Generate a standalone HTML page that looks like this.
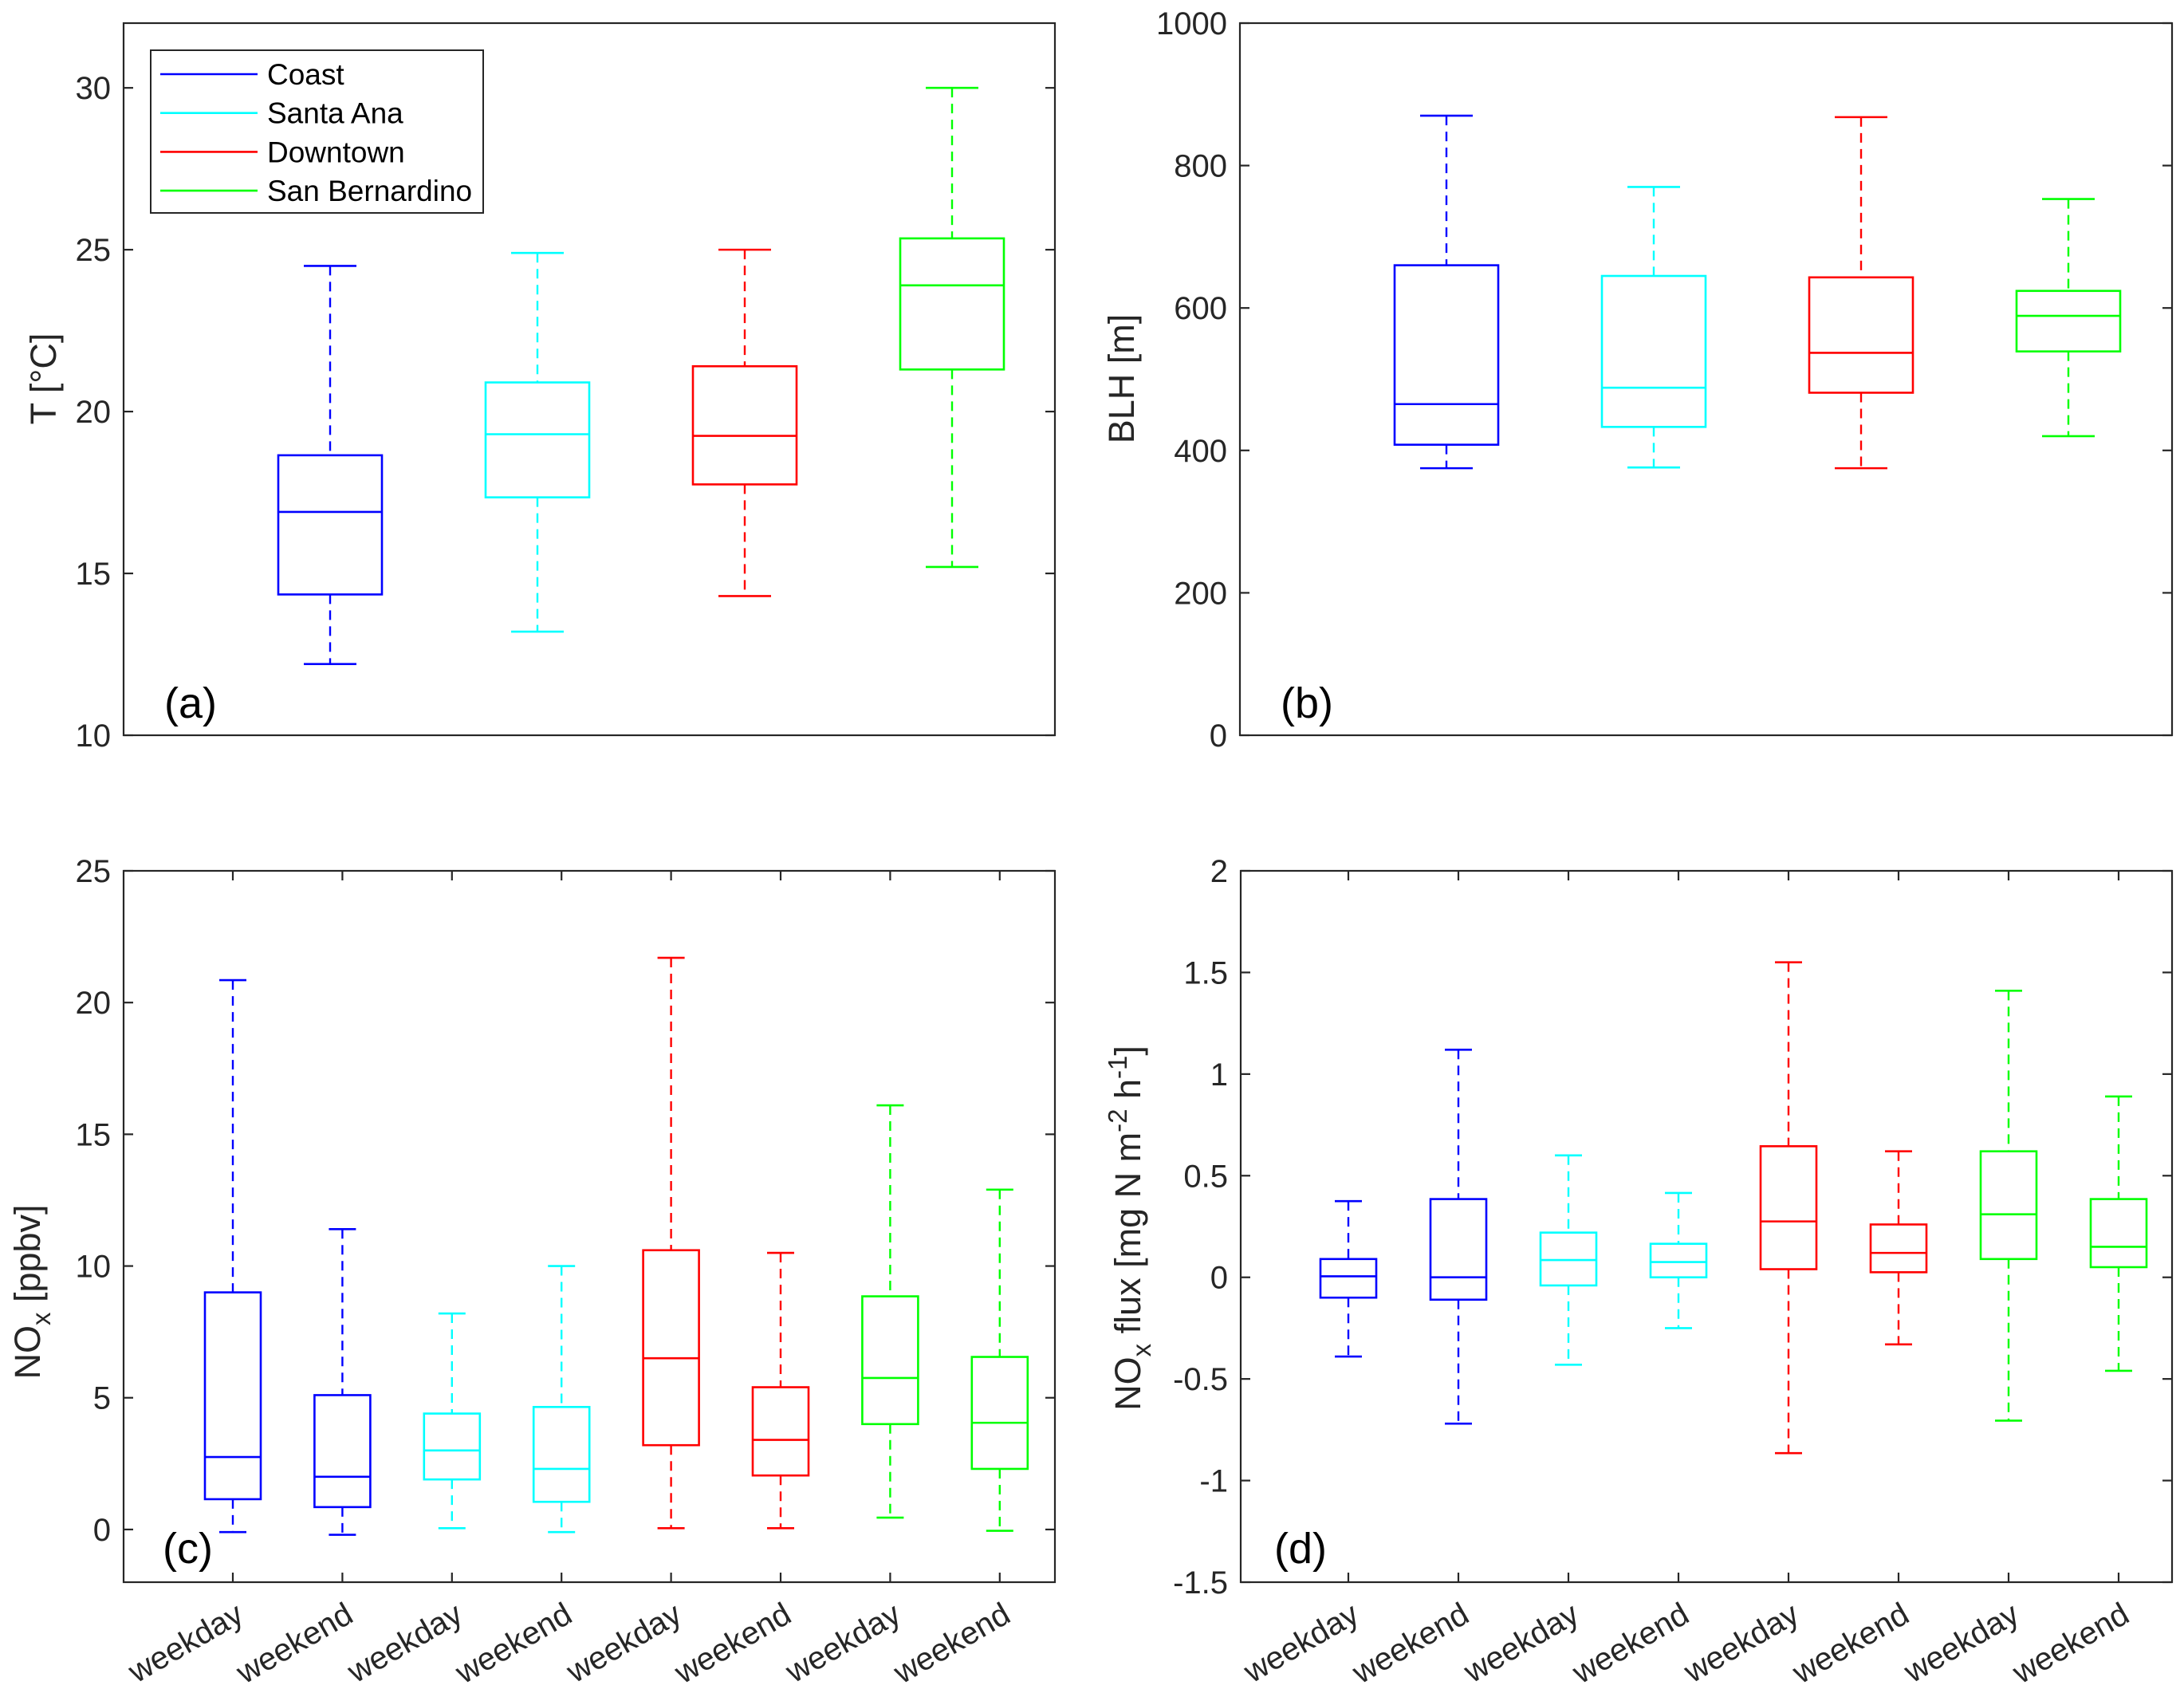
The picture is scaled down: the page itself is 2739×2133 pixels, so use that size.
<!DOCTYPE html>
<html><head><meta charset="utf-8"><style>
html,body{margin:0;padding:0;background:#fff;}
svg{display:block;font-family:"Liberation Sans",Arial,sans-serif;}
</style></head><body>
<svg id="fig" width="2739" height="2133" viewBox="0 0 2739 2133" xmlns="http://www.w3.org/2000/svg"></svg>
<script>
// ---- data ----
const sites = ["Coast","Santa Ana","Downtown","San Bernardino"];
const colors = ["#0000ff","#00ffff","#ff0000","#00ff00"];
const tempHi  = [24.5, 24.9, 25.0, 30.0];
const tempQ3  = [18.65, 20.9, 21.4, 25.35];
const tempMed = [16.9, 19.3, 19.25, 23.9];
const tempQ1  = [14.35, 17.35, 17.75, 21.3];
const tempLo  = [12.2, 13.2, 14.3, 15.2];
const blhHi  = [870, 770, 868, 753];
const blhQ3  = [660, 645, 643, 624];
const blhMed = [465, 488, 537, 589];
const blhQ1  = [408, 433, 481, 539];
const blhLo  = [375, 376, 375, 420];
const dayCats = ["weekday","weekend","weekday","weekend","weekday","weekend","weekday","weekend"];
const noxHi  = [20.85, 11.4, 8.2, 10.0, 21.7, 10.5, 16.1, 12.9];
const noxQ3  = [9.0, 5.1, 4.4, 4.65, 10.6, 5.4, 8.85, 6.55];
const noxMed = [2.75, 2.0, 3.0, 2.3, 6.5, 3.4, 5.75, 4.05];
const noxQ1  = [1.15, 0.85, 1.9, 1.05, 3.2, 2.05, 4.0, 2.3];
const noxLo  = [-0.1, -0.2, 0.05, -0.1, 0.05, 0.05, 0.45, -0.05];
const fluxHi  = [0.375, 1.12, 0.60, 0.415, 1.55, 0.62, 1.41, 0.89];
const fluxQ3  = [0.09, 0.385, 0.22, 0.165, 0.645, 0.26, 0.62, 0.385];
const fluxMed = [0.005, 0.0, 0.085, 0.075, 0.275, 0.12, 0.31, 0.15];
const fluxQ1  = [-0.10, -0.11, -0.04, 0.0, 0.04, 0.025, 0.09, 0.05];
const fluxLo  = [-0.39, -0.72, -0.43, -0.25, -0.865, -0.33, -0.705, -0.46];
const tempTicks = [10,15,20,25,30];
const blhTicks = [0,200,400,600,800,1000];
const noxTicks = [0,5,10,15,20,25];
const fluxTicks = [-1.5,-1,-0.5,0,0.5,1,1.5,2];

const NS="http://www.w3.org/2000/svg";
const svg=document.getElementById('fig');
function mk(tag,attrs,parent){const e=document.createElementNS(NS,tag);for(const k in attrs)e.setAttribute(k,attrs[k]);(parent||svg).appendChild(e);return e;}
const AX="#262626";

function panel(o){
  const g=mk('g',{});
  
  
  const L=o.left,R=o.right,T=o.top,B=o.bottom;
  const y=v=>B-(v-o.ymin)/(o.ymax-o.ymin)*(B-T);
  const x=i=>L+o.off+o.step*i;
  const fr=mk('rect',{x:L,y:T,width:R-L,height:B-T,fill:'none',stroke:AX,'stroke-width':2.2},g);
  
  
  o.yticks.forEach(v=>{
    const yy=y(v);
    mk('line',{x1:L,y1:yy,x2:L+12,y2:yy,stroke:AX,'stroke-width':2.2},g);
    mk('line',{x1:R,y1:yy,x2:R-12,y2:yy,stroke:AX,'stroke-width':2.2},g);
    const t=mk('text',{x:L-16,y:yy+14,'text-anchor':'end','font-size':40,fill:AX},g);
    t.textContent=String(v);
    
    
  });
  const n=o.hi.length;
  for(let i=0;i<n;i++){
    const cx=x(i), c=o.col(i), hw=o.hw, cw=o.cw;
    const bg=mk('g',{},g);
    
    
    mk('line',{x1:cx,y1:y(o.hi[i]),x2:cx,y2:y(o.q3[i]),stroke:c,'stroke-width':2.4,'stroke-dasharray':'12,8'},bg);
    mk('line',{x1:cx,y1:y(o.q1[i]),x2:cx,y2:y(o.lo[i]),stroke:c,'stroke-width':2.4,'stroke-dasharray':'12,8'},bg);
    mk('line',{x1:cx-cw,y1:y(o.hi[i]),x2:cx+cw,y2:y(o.hi[i]),stroke:c,'stroke-width':2.6},bg);
    mk('line',{x1:cx-cw,y1:y(o.lo[i]),x2:cx+cw,y2:y(o.lo[i]),stroke:c,'stroke-width':2.6},bg);
    mk('rect',{x:cx-hw,y:y(o.q3[i]),width:2*hw,height:y(o.q1[i])-y(o.q3[i]),fill:'none',stroke:c,'stroke-width':2.6},bg);
    mk('line',{x1:cx-hw,y1:y(o.med[i]),x2:cx+hw,y2:y(o.med[i]),stroke:c,'stroke-width':2.6},bg);
    if(o.xlabels){
      mk('line',{x1:cx,y1:B,x2:cx,y2:B-12,stroke:AX,'stroke-width':2.2},g);
      mk('line',{x1:cx,y1:T,x2:cx,y2:T+12,stroke:AX,'stroke-width':2.2},g);
      const t=mk('text',{x:0,y:0,'text-anchor':'end','font-size':40,fill:AX,transform:`translate(${cx+16},${B+48}) rotate(-30)`},g);
      t.textContent=o.xlabels[i];
      
      
    }
  }
  const pl=mk('text',{x:o.plx,y:o.ply,'font-size':54,fill:'#000'},g);
  pl.textContent=o.plabel;
  
  
  return g;
}

panel({name:'panel-a-temperature',left:155,right:1323,top:29,bottom:922,ymin:10,ymax:32,off:259,step:260,hw:65,cw:33,
  hi:tempHi,q3:tempQ3,med:tempMed,q1:tempQ1,lo:tempLo,col:i=>colors[i],yticks:tempTicks,plabel:'(a)',plx:206,ply:900});
panel({name:'panel-b-blh',left:1555,right:2724,top:29,bottom:922,ymin:0,ymax:1000,off:259,step:260,hw:65,cw:33,
  hi:blhHi,q3:blhQ3,med:blhMed,q1:blhQ1,lo:blhLo,col:i=>colors[i],yticks:blhTicks,plabel:'(b)',plx:1606,ply:900});
panel({name:'panel-c-nox',left:155,right:1323,top:1092,bottom:1984,ymin:-2,ymax:25,off:137,step:137.4,hw:35,cw:17,
  hi:noxHi,q3:noxQ3,med:noxMed,q1:noxQ1,lo:noxLo,col:i=>colors[Math.floor(i/2)],yticks:noxTicks,xlabels:dayCats,plabel:'(c)',plx:204,ply:1960});
panel({name:'panel-d-nox-flux',left:1556,right:2724,top:1092,bottom:1984,ymin:-1.5,ymax:2,off:135,step:138,hw:35,cw:17,
  hi:fluxHi,q3:fluxQ3,med:fluxMed,q1:fluxQ1,lo:fluxLo,col:i=>colors[Math.floor(i/2)],yticks:fluxTicks,xlabels:dayCats,plabel:'(d)',plx:1598,ply:1960});

const lg=mk('g',{});


mk('rect',{x:189,y:63,width:417,height:204,fill:'#fff',stroke:AX,'stroke-width':2},lg);
sites.forEach((s,i)=>{
  const yy=93+i*48.7;
  const e=mk('g',{},lg);
  
  
  mk('line',{x1:201,y1:yy,x2:323,y2:yy,stroke:colors[i],'stroke-width':2.6},e);
  const t=mk('text',{x:335,y:yy+13,'font-size':37,fill:'#000'},e);
  t.textContent=s;
});

function ytitle(x,y,html,name){
  const t=mk('text',{x:0,y:0,'text-anchor':'middle','font-size':45,fill:AX,transform:`translate(${x},${y}) rotate(-90)`});
  t.innerHTML=html;
  
  
}
ytitle(70,475,'T [°C]','y-axis-title-temperature');
ytitle(1422,475,'BLH [m]','y-axis-title-blh');
ytitle(50,1620,'NO<tspan font-size="33" dy="13">x</tspan><tspan dy="-13"> [ppbv]</tspan>','y-axis-title-nox');
ytitle(1430,1540,'NO<tspan font-size="33" dy="13">x</tspan><tspan dy="-13"> flux [mg N m</tspan><tspan font-size="33" dy="-17">-2</tspan><tspan dy="17"> h</tspan><tspan font-size="33" dy="-17">-1</tspan><tspan dy="17">]</tspan>','y-axis-title-flux');
</script>
</body></html>
